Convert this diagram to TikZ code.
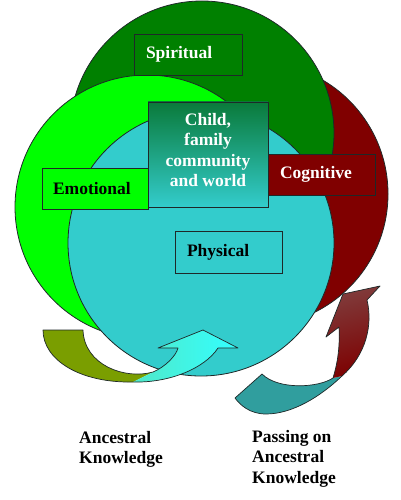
\documentclass[tikz,border=0pt]{standalone}
\usepackage{fontspec}
\setmainfont{Liberation Serif}[BoldFont={Liberation Serif Bold}]
\newfontfamily\lblfont{Liberation Serif}[BoldFont={Liberation Serif Bold}]
\definecolor{spirit}{RGB}{0,128,0}
\definecolor{emot}{RGB}{0,255,0}
\definecolor{cogn}{RGB}{128,0,0}
\definecolor{phys}{RGB}{51,204,204}
\definecolor{ctop}{RGB}{10,122,58}
\definecolor{olivebd}{RGB}{122,158,0}
\definecolor{cyanA}{RGB}{80,232,200}
\definecolor{cyanB}{RGB}{51,255,255}
\definecolor{tealB}{RGB}{48,158,158}
\definecolor{headtop}{RGB}{128,60,60}
\definecolor{headmid}{RGB}{128,128,128}
\definecolor{headbot}{RGB}{125,0,0}
\definecolor{edge}{RGB}{30,40,40}
\tikzset{
  ring/.style={circle, draw=edge, line width=0.8pt, minimum size=264pt, inner sep=0pt},
  lbl/.style={font=\lblfont\bfseries\fontsize{17.5}{20.5}\selectfont},
  tag/.style={rectangle, draw=edge, line width=0.8pt, lbl, align=left,
              minimum height=41pt, inner xsep=12pt, inner ysep=0pt},
  arrowline/.style={draw=edge, line width=0.7pt, line join=round},
}
\begin{document}
\begin{tikzpicture}[x=1pt,y=-1pt]
\useasboundingbox (0,0) rectangle (400,500);
% circles
\node[ring, fill=cogn] (cog) at (256,194) {};
\node[ring, fill=spirit] (spi) at (202,133) {};
\node[ring, fill=emot] (emo) at (147,207) {};
\node[ring, fill=phys, minimum size=266pt] (phy) at (201,243) {};
% boxes
\node[tag, fill=spirit, text=white, text width=84pt] (spiritual) at (188,54.5) {Spiritual};
\node[tag, fill=emot, text=black, text width=84pt, inner xsep=11pt] (emotional) at (95,188.5) {Emotional};
\node[tag, fill=cogn, text=white, text width=83pt] (cognitive) at (321.5,174.5) {Cognitive};
\node[tag, fill=phys, text=black, text width=83pt, minimum height=42pt] (physical) at (228.5,252) {Physical};
\node[rectangle, draw=edge, line width=0.8pt, top color=ctop, bottom color=phys,
      minimum width=120pt, minimum height=105pt, inner sep=0pt] (centre) at (208,154.5) {};
\node[lbl, align=center, text=white, inner sep=0pt] (centretext) at (208,150) {Child,\\family\\community\\and world};
% left curved arrow
\fill[olivebd] (43,330) -- (83,330) .. controls (84,365) and (125,380) .. (153,372)
  -- (133,382) .. controls (80,383) and (43,360) .. (43,330) -- cycle;
\shade[left color=cyanA, right color=cyanB] (153,372) .. controls (165,367) and (176,356) .. (178,348)
  -- (158,348) -- (203,330) -- (238,348) -- (218,348)
  .. controls (205,368) and (170,383) .. (133,382) -- cycle;
\draw[arrowline] (43,330) -- (83,330) .. controls (84,365) and (125,380) .. (153,372)
  .. controls (165,367) and (176,356) .. (178,348) -- (158,348) -- (203,330) -- (238,348) -- (218,348)
  .. controls (205,368) and (170,383) .. (133,382) .. controls (80,383) and (43,360) .. (43,330) -- cycle;
% right curved arrow
\fill[tealB] (235,398) -- (262,374) .. controls (278,390) and (318,388) .. (333,378)
  -- (342,376) .. controls (320,397) and (292,414) .. (266,414)
  .. controls (250,414) and (240,405) .. (235,398) -- cycle;
\shade[top color=headtop, middle color=headmid, bottom color=headbot, shading angle=15]
  (333,378) .. controls (338,362) and (340,345) .. (339,327) -- (326,337) -- (343,294) -- (380,286)
  -- (367,300) .. controls (373,325) and (366,355) .. (342,376) -- cycle;
\draw[arrowline] (235,398) -- (262,374) .. controls (278,390) and (318,388) .. (333,378)
  .. controls (338,362) and (340,345) .. (339,327) -- (326,337) -- (343,294) -- (380,286)
  -- (367,300) .. controls (373,325) and (366,355) .. (342,376)
  .. controls (320,397) and (292,414) .. (266,414) .. controls (250,414) and (240,405) .. (235,398) -- cycle;
% captions
\node[lbl, align=left, anchor=north west, inner sep=0pt] (ancestral) at (79,431) {Ancestral\\Knowledge};
\node[lbl, align=left, anchor=north west, inner sep=0pt] (passing) at (252,430) {Passing on\\Ancestral\\Knowledge};
\end{tikzpicture}
\end{document}
